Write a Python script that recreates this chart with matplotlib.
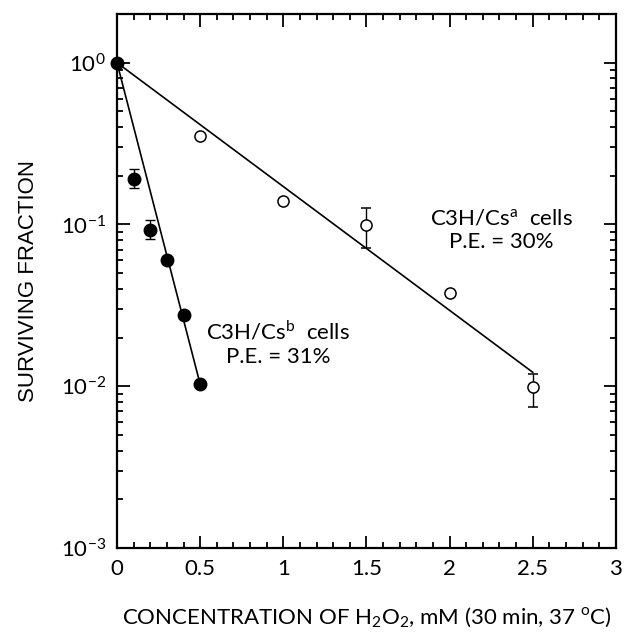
import matplotlib
matplotlib.use("Agg")
import matplotlib.pyplot as plt
from matplotlib.ticker import FixedLocator, LogLocator, NullFormatter

# C3H/Cs^b cells (filled)
conc_b = [0.0, 0.1, 0.2, 0.3, 0.4, 0.5]
surv_b = [1.0, 0.192, 0.093, 0.060, 0.0274, 0.0103]
err_lo_b = [0.0, 0.025, 0.012, 0.0, 0.0, 0.0]
err_hi_b = [0.0, 0.028, 0.013, 0.0, 0.0, 0.0]
fit_x_b = [0.0, 0.5]
fit_y_b = [1.0, 0.0103]

# C3H/Cs^a cells (open)
conc_a = [0.0, 0.5, 1.0, 1.5, 2.0, 2.5]
surv_a = [1.0, 0.354, 0.14, 0.099, 0.0375, 0.0099]
err_lo_a = [0.0, 0.0, 0.0, 0.027, 0.0, 0.0025]
err_hi_a = [0.0, 0.0, 0.0, 0.027, 0.0, 0.002]
fit_x_a = [0.0, 2.5]
fit_y_a = [1.0, 0.0122]

xticks = [0, 0.5, 1, 1.5, 2, 2.5, 3]
xticklabels = ["0", "0.5", "1", "1.5", "2", "2.5", "3"]

FONT = ["Lato", "DejaVu Sans"]
FS = 16

fig = plt.figure(figsize=(6.24, 6.43), dpi=100)
ax = fig.add_axes([0.1875, 0.1477, 0.7995, 0.8305])

ax.plot(fit_x_a, fit_y_a, color="black", lw=1.2, zorder=2)
ax.plot(fit_x_b, fit_y_b, color="black", lw=1.2, zorder=2)

ax.errorbar(conc_a, surv_a, yerr=[err_lo_a, err_hi_a], fmt="o", ms=8,
            mfc="white", mec="black", mew=1.1, ecolor="black", elinewidth=1,
            capsize=3.5, capthick=1, clip_on=False, zorder=3)
ax.errorbar(conc_b, surv_b, yerr=[err_lo_b, err_hi_b], fmt="o", ms=9,
            mfc="black", mec="black", ecolor="black", elinewidth=1,
            capsize=3.5, capthick=1, clip_on=False, zorder=4)

ax.set_yscale("log")
ax.set_xlim(0, 3)
ax.set_ylim(1e-3, 2.0)

ax.xaxis.set_major_locator(FixedLocator(xticks))
ax.set_xticklabels(xticklabels, fontsize=FS, family=FONT)
ax.xaxis.set_minor_locator(FixedLocator([i / 10 for i in range(31)]))
ax.yaxis.set_major_locator(FixedLocator([1e-3, 1e-2, 1e-1, 1e0]))
ax.set_yticklabels(["$\\mathregular{10^{-3}}$", "$\\mathregular{10^{-2}}$",
                    "$\\mathregular{10^{-1}}$", "$\\mathregular{10^{0}}$"],
                   fontsize=FS, family=FONT)
ax.yaxis.set_minor_locator(LogLocator(base=10, subs=range(2, 10)))
ax.yaxis.set_minor_formatter(NullFormatter())

ax.tick_params(which="both", direction="in", top=True, right=True, width=1.3)
ax.tick_params(which="major", length=9, pad=8)
ax.tick_params(which="minor", length=4.5)
for s in ax.spines.values():
    s.set_linewidth(1.6)

ax.text(2.31, 0.109, "C3H/Cs$^{\\mathregular{a}}$  cells", ha="center", va="center",
        fontsize=FS, family=FONT)
ax.text(2.31, 0.078, "P.E. = 30%", ha="center", va="center", fontsize=FS, family=FONT)
ax.text(0.97, 0.0216, "C3H/Cs$^{\\mathregular{b}}$  cells", ha="center", va="center",
        fontsize=FS, family=FONT)
ax.text(0.97, 0.0151, "P.E. = 31%", ha="center", va="center", fontsize=FS, family=FONT)

ax.set_ylabel("SURVIVING FRACTION", fontsize=16, family=["Liberation Sans", "DejaVu Sans"],
              labelpad=16)
ax.set_xlabel("CONCENTRATION OF H$_\\mathregular{2}$O$_\\mathregular{2}$, mM (30 min, 37 $^\\mathregular{o}$C)",
              fontsize=FS, family=FONT, labelpad=19)

fig.savefig("out.png", dpi=100)
